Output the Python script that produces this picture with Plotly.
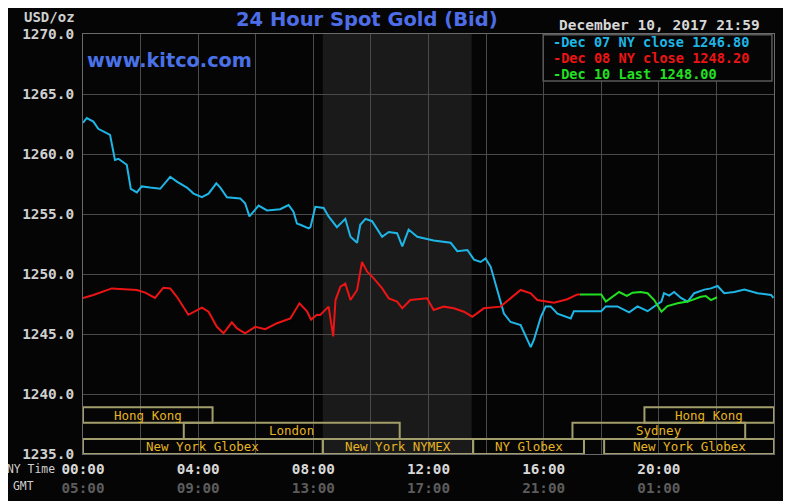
import plotly.graph_objects as go

# ---------------- data ----------------
# hours since NY midnight, price in USD/oz
dec07_hours = [0.0, 0.13, 0.36, 0.53, 0.94, 1.03, 1.11, 1.23, 1.52, 1.58, 1.66, 1.87, 2.04, 2.33, 2.68,
               3.03, 3.26, 3.61, 3.84, 4.13, 4.36, 4.63, 4.77, 5.0, 5.46, 5.63, 5.78, 6.10, 6.39, 6.85,
               7.14, 7.31, 7.43, 7.55, 7.84, 7.90, 8.07, 8.36, 8.53, 8.82, 9.11, 9.29, 9.52, 9.63, 9.81,
               10.04, 10.39, 10.62, 10.91, 11.09, 11.31, 11.61, 12.18, 12.77, 13.0, 13.35, 13.58, 13.81,
               13.98, 14.16, 14.39, 14.62, 14.85, 15.2, 15.55, 15.66, 15.9, 16.07, 16.24, 16.48, 16.94,
               17.05, 18.0, 18.16, 18.56, 18.97, 19.26, 19.61, 19.9, 20.09, 20.18, 20.36, 20.53, 20.77,
               21.0, 21.23, 21.58, 21.81, 22.04, 22.27, 22.62, 22.97, 23.43, 23.9, 23.98]
dec07_price = [1262.6, 1263.0, 1262.7, 1262.1, 1261.6, 1260.6, 1259.5, 1259.6, 1259.1, 1258.25, 1257.1,
               1256.8, 1257.3, 1257.2, 1257.1, 1258.1, 1257.7, 1257.2, 1256.7, 1256.4, 1256.7, 1257.55,
               1257.2, 1256.4, 1256.3, 1255.9, 1254.8, 1255.7, 1255.3, 1255.4, 1255.75, 1255.2, 1254.2,
               1254.1, 1253.8, 1253.9, 1255.6, 1255.5, 1254.8, 1253.9, 1254.6, 1253.1, 1252.6, 1254.1,
               1254.6, 1254.4, 1253.1, 1253.5, 1253.4, 1252.3, 1253.7, 1253.1, 1252.8, 1252.6, 1251.9,
               1252.0, 1251.2, 1251.0, 1251.3, 1250.6, 1248.7, 1246.7, 1246.0, 1245.75, 1243.9, 1244.5,
               1246.4, 1247.3, 1247.3, 1246.7, 1246.3, 1246.9, 1246.9, 1247.3, 1247.3, 1246.8, 1247.3,
               1246.9, 1247.4, 1247.7, 1248.4, 1248.2, 1248.5, 1248.0, 1247.7, 1248.4, 1248.7, 1248.8,
               1249.0, 1248.4, 1248.5, 1248.7, 1248.4, 1248.25, 1248.0]

dec08_hours = [0.0, 0.36, 1.0, 1.52, 1.87, 2.16, 2.5, 2.79, 3.03, 3.26, 3.66, 4.13, 4.36, 4.65, 4.88,
               5.17, 5.35, 5.63, 5.98, 6.33, 6.74, 7.2, 7.52, 7.78, 7.92, 8.13, 8.24, 8.53, 8.62, 8.69,
               8.77, 8.94, 9.11, 9.29, 9.52, 9.69, 9.87, 10.1, 10.39, 10.62, 10.91, 11.09, 11.37, 11.95,
               12.18, 12.53, 12.88, 13.23, 13.52, 13.92, 14.5, 14.85, 15.2, 15.55, 15.78, 16.36, 16.82,
               17.17, 17.26]
dec08_price = [1248.0, 1248.25, 1248.8, 1248.75, 1248.67, 1248.45, 1248.0, 1248.86, 1248.8, 1248.1,
               1246.6, 1247.2, 1246.86, 1245.6, 1245.06, 1245.97, 1245.47, 1245.06, 1245.6, 1245.4,
               1245.9, 1246.3, 1247.56, 1246.9, 1246.2, 1246.6, 1246.58, 1247.28, 1245.9, 1244.8,
               1247.83, 1248.94, 1249.2, 1247.83, 1248.67, 1251.0, 1250.2, 1249.64, 1248.8, 1247.97,
               1247.7, 1247.14, 1247.83, 1247.97, 1247.0, 1247.28, 1247.14, 1246.86, 1246.44, 1247.14,
               1247.28, 1247.97, 1248.67, 1248.39, 1247.83, 1247.6, 1247.9, 1248.3, 1248.3]

dec10_hours = [17.26, 18.0, 18.16, 18.39, 18.62, 18.89, 19.09, 19.37, 19.61, 19.84, 20.09, 20.3, 20.65,
               21.0, 21.23, 21.46, 21.63, 21.81, 22.02]
dec10_price = [1248.3, 1248.3, 1247.7, 1248.1, 1248.5, 1248.17, 1248.44, 1248.5, 1248.4, 1247.83,
               1246.86, 1247.33, 1247.56, 1247.7, 1247.9, 1248.1, 1248.17, 1247.83, 1248.06]

series_names = ["Dec 07 NY close 1246.80", "Dec 08 NY close 1248.20", "Dec 10 Last 1248.00"]
series_colors = ["#1eb6e6", "#ec1414", "#22e022"]

# x tick labels: NY time and GMT
tick_hours = [0, 4, 8, 12, 16, 20, 23.983]
tick_ny = ["00:00", "04:00", "08:00", "12:00", "16:00", "20:00", "23:59"]
tick_gmt = ["05:00", "09:00", "13:00", "17:00", "21:00", "01:00", "04:59"]

y_ticks = [1235, 1240, 1245, 1250, 1255, 1260, 1265, 1270]

# trading sessions: name, start hour, end hour, row (0 = top)
session_names = ["Hong Kong", "Hong Kong", "London", "Sydney",
                 "New York Globex", "New York NYMEX", "NY Globex", "New York Globex"]
session_start = [0.0, 19.5, 3.5, 17.0, 0.0, 8.33, 13.55, 18.1]
session_end = [4.5, 24.0, 11.0, 23.0, 8.33, 13.55, 17.4, 24.0]
session_row = [0, 0, 1, 1, 2, 2, 2, 2]
row_bounds = [(1237.6, 1238.9), (1236.25, 1237.6), (1235.0, 1236.25)]

nymex_shade = (8.33, 13.5)

# ---------------- figure ----------------
MONO = "DejaVu Sans Mono"
fig = go.Figure()
for h, p, c, n in zip([dec07_hours, dec08_hours, dec10_hours],
                      [dec07_price, dec08_price, dec10_price],
                      series_colors, series_names):
    fig.add_trace(go.Scatter(x=h, y=p, mode="lines", name=n,
                             line=dict(color=c, width=2), showlegend=False, hoverinfo="skip"))

shapes = []
shapes.append(dict(type="rect", xref="x", yref="paper", x0=nymex_shade[0], x1=nymex_shade[1],
                   y0=0, y1=1, fillcolor="#1a1a1a", line=dict(width=0), layer="below"))
annotations = []
for name, s, e, r in zip(session_names, session_start, session_end, session_row):
    y0, y1 = row_bounds[r]
    shapes.append(dict(type="rect", xref="x", yref="y", x0=s, x1=e, y0=y0, y1=y1,
                       line=dict(color="#a29e6c", width=2), fillcolor="rgba(0,0,0,0)", layer="above"))
    annotations.append(dict(x=(s + e) / 2, y=(y0 + y1) / 2, xref="x", yref="y", text=name,
                            showarrow=False, font=dict(family=MONO, size=12.5, color="#e6b422"),
                            xanchor="center", yanchor="middle"))

# legend box
shapes.append(dict(type="rect", xref="paper", yref="paper", x0=0.666, x1=0.997, y0=0.888, y1=0.998,
                   fillcolor="#050505", line=dict(color="#5a5a5a", width=1.5), layer="above"))
for i, (n, c) in enumerate(zip(series_names, series_colors)):
    annotations.append(dict(x=0.677, y=0.9798 - i * 0.0381, xref="paper", yref="paper",
                            text="-" + n, showarrow=False, xanchor="left", yanchor="middle",
                            font=dict(family=MONO, size=13.6, color=c, weight="bold")))

annotations += [
    dict(x=0.411, y=1.034, xref="paper", yref="paper", text="24 Hour Spot Gold (Bid)", showarrow=False,
         xanchor="center", yanchor="middle",
         font=dict(family="DejaVu Sans", size=19.5, color="#4d6ee8", weight="bold")),
    dict(x=0.003, y=0.936, xref="paper", yref="paper", text="www.kitco.com", showarrow=False,
         xanchor="left", yanchor="middle",
         font=dict(family="DejaVu Sans", size=19.3, color="#4a72e8", weight="bold")),
    dict(x=0.982, y=1.021, xref="paper", yref="paper", text="December 10, 2017 21:59", showarrow=False,
         xanchor="right", yanchor="middle", font=dict(family=MONO, size=14.5, color="#d6d6d6", weight="bold")),
    dict(x=0, y=1.04, xref="paper", yref="paper", text="USD/oz", showarrow=False, xshift=-6,
         xanchor="right", yanchor="middle", font=dict(family=MONO, size=14, color="#cfcfcf", weight="bold")),
    dict(x=0, y=-0.036, xref="paper", yref="paper", text="NY Time", showarrow=False, xshift=-26,
         xanchor="right", yanchor="middle", font=dict(family=MONO, size=11.4, color="#cfcfcf")),
    dict(x=0, y=-0.076, xref="paper", yref="paper", text="GMT", showarrow=False, xshift=-47,
         xanchor="right", yanchor="middle", font=dict(family=MONO, size=11.4, color="#cfcfcf")),
]

ticktext = []
for i, (a, b) in enumerate(zip(tick_ny, tick_gmt)):
    pad = "\u00a0" * 3 if i == len(tick_ny) - 1 else ""
    ticktext.append(f"{a}{pad}<br><span style='color:#5c5c5c'>{b}{pad}</span>")

# page body has an 8px margin: shrink the figure so the plot area lands where the reference has it
fig.update_layout(
    width=783, height=493,
    margin=dict(l=75, r=17, t=26, b=47),
    paper_bgcolor="#050505", plot_bgcolor="#050505",
    shapes=shapes, annotations=annotations, showlegend=False,
    xaxis=dict(range=[0, 24], tickvals=tick_hours, ticktext=ticktext, showgrid=False,
               zeroline=False, showline=True, mirror=True, linecolor="#6a6a6a", linewidth=1,
               tickfont=dict(family=MONO, size=14.3, color="#d8d8d8", weight="bold"), automargin=False,
               ticks="", ticklabelstandoff=2),
    yaxis=dict(range=[1235, 1270], tickvals=y_ticks, tickformat=".1f", showgrid=True,
               gridcolor="#4a4a4a", gridwidth=1, zeroline=False, showline=True, mirror=True,
               linecolor="#6a6a6a", linewidth=1, automargin=False, ticks="",
               tickfont=dict(family=MONO, size=14.4, color="#d0d0d0", weight="bold"), ticklabelstandoff=5),
)
# vertical grid every 2 hours
fig.update_xaxes(minor=dict(tickvals=list(range(0, 25, 2)), showgrid=True, gridcolor="#4a4a4a",
                            gridwidth=1, ticks=""))

fig.write_html("out.html", config={"displayModeBar": False})
